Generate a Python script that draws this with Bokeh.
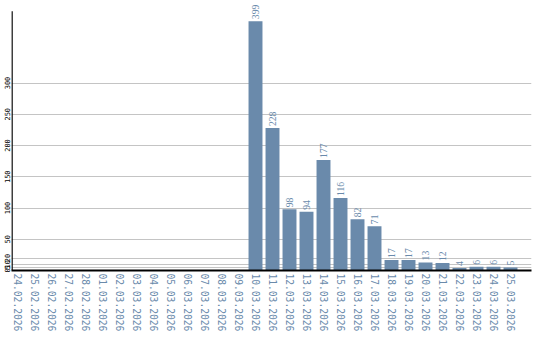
import math
from bokeh.plotting import figure
from bokeh.models import ColumnDataSource, Range1d, FixedTicker, LabelSet
from bokeh.embed import file_html
from bokeh.resources import INLINE

dates = ["24.02.2026", "25.02.2026", "26.02.2026", "27.02.2026", "28.02.2026",
         "01.03.2026", "02.03.2026", "03.03.2026", "04.03.2026", "05.03.2026",
         "06.03.2026", "07.03.2026", "08.03.2026", "09.03.2026", "10.03.2026",
         "11.03.2026", "12.03.2026", "13.03.2026", "14.03.2026", "15.03.2026",
         "16.03.2026", "17.03.2026", "18.03.2026", "19.03.2026", "20.03.2026",
         "21.03.2026", "22.03.2026", "23.03.2026", "24.03.2026", "25.03.2026"]
values = [0, 0, 0, 0, 0, 0, 0, 0, 0, 0, 0, 0, 0, 0,
          399, 228, 98, 94, 177, 116, 82, 71, 17, 17, 13, 12, 4, 6, 6, 5]
y_ticks = [0, 5, 10, 20, 50, 100, 150, 200, 250, 300]
y_axis_top = 415

BAR = "#6a8aab"
MONO = "DejaVu Sans Mono"

xs = list(range(len(dates)))
src = ColumnDataSource(dict(x=xs, top=values))
lbl_src = ColumnDataSource(dict(x=[x for x, v in zip(xs, values) if v > 0],
                                top=[v for v in values if v > 0],
                                lbl=[str(v) for v in values if v > 0]))

x0, x1 = -0.353, 30.235
p = figure(frame_width=520, frame_height=270, output_backend="svg",
           toolbar_location=None,
           x_range=Range1d(x0, x1), y_range=Range1d(0, 432),
           min_border_left=11, min_border_right=9, min_border_top=0,
           min_border_bottom=70)
p.outline_line_color = None
p.background_fill_color = "white"

p.vbar(x="x", top="top", width=0.82, bottom=0, source=src,
       fill_color=BAR, line_color=None)

# left axis line (only up to the axis top)
p.segment(x0=[x0 + 0.03], y0=[0], x1=[x0 + 0.03], y1=[y_axis_top],
          line_color="black", line_width=1.5)

labels = LabelSet(x="x", y="top", text="lbl", source=lbl_src, angle=math.pi / 2,
                  text_align="left", text_baseline="middle", y_offset=2,
                  text_font=MONO, text_font_size="9.6px", text_color=BAR)
p.add_layout(labels)

p.xaxis.ticker = FixedTicker(ticks=xs)
p.xaxis.major_label_overrides = {i: d for i, d in enumerate(dates)}
p.xaxis.major_label_orientation = "vertical"
p.xaxis.major_label_text_font = MONO
p.xaxis.major_label_text_font_size = "9.6px"
p.xaxis.major_label_text_color = BAR
p.xaxis.major_label_standoff = 3
p.xaxis.major_tick_line_color = None
p.xaxis.minor_tick_line_color = None
p.xaxis.major_tick_out = 0
p.xaxis.major_tick_in = 0
p.xaxis.axis_line_color = "black"
p.xaxis.axis_line_width = 2
p.xgrid.grid_line_color = None

p.yaxis.ticker = FixedTicker(ticks=y_ticks)
p.yaxis.major_label_orientation = "vertical"
p.yaxis.major_label_text_font = MONO
p.yaxis.major_label_text_font_size = "7px"
p.yaxis.major_label_text_color = "black"
p.yaxis.major_label_standoff = 2
p.yaxis.major_tick_line_color = None
p.yaxis.minor_tick_line_color = None
p.yaxis.major_tick_out = 0
p.yaxis.major_tick_in = 0
p.yaxis.axis_line_color = None
p.ygrid.ticker = FixedTicker(ticks=y_ticks)
p.ygrid.grid_line_color = "#c4c4c4"
p.ygrid.grid_line_width = 1
p.ygrid.level = "image"

open("out.html", "w").write(file_html(p, INLINE))
